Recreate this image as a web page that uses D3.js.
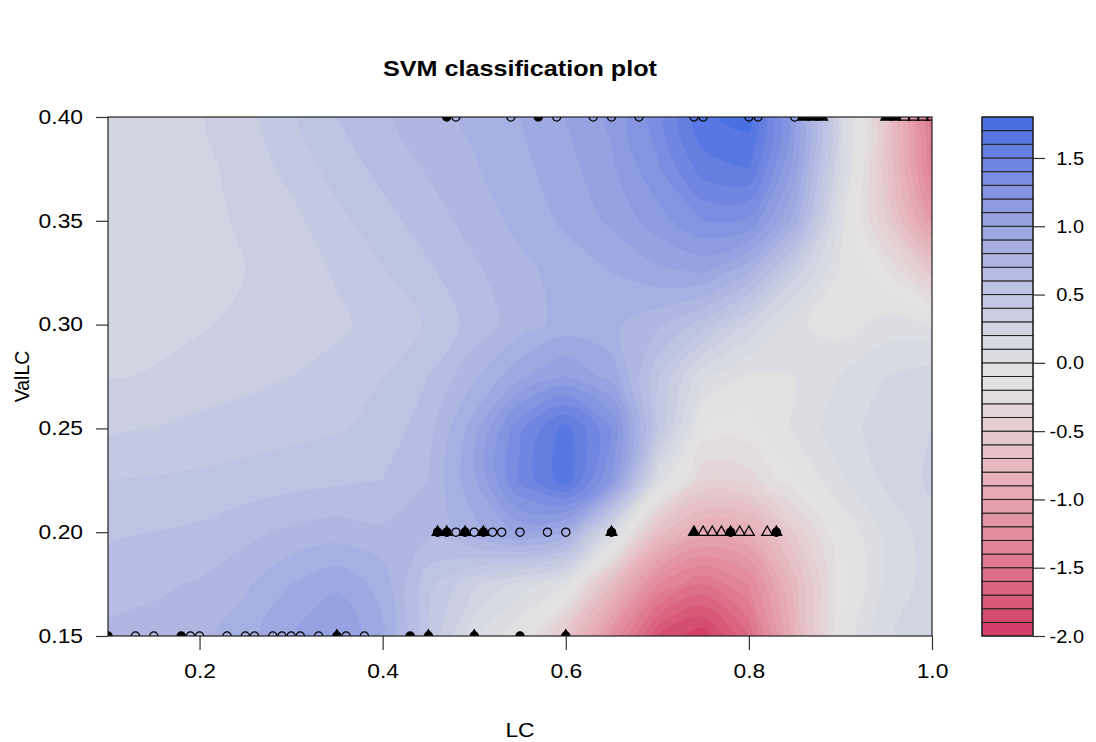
<!DOCTYPE html>
<html>
<head>
<meta charset="utf-8">
<script src="https://cdn.jsdelivr.net/npm/d3@7"></script>
<style>
  body { margin: 0; background: #fff; }
  text { font-family: "Liberation Sans", Arial, sans-serif; fill: #000; }
</style>
</head>
<body>
<div id="chart-area"></div>
<script>
var gridLC = [0.10, 0.15, 0.20, 0.25, 0.30, 0.35, 0.40, 0.45, 0.50, 0.55,
              0.60, 0.65, 0.70, 0.75, 0.80, 0.85, 0.90, 0.95, 1.00];
var gridValLC = [0.40, 0.375, 0.35, 0.325, 0.30, 0.275, 0.25, 0.225, 0.20, 0.175, 0.15];
var decision = [
  [0.20, 0.23, 0.29, 0.36, 0.48, 0.60, 0.68, 0.76, 0.82, 0.90, 1.00, 1.12, 1.35, 1.68, 1.74, 1.10, 0.22, -0.62, -1.50],
  [0.20, 0.23, 0.27, 0.34, 0.43, 0.54, 0.63, 0.71, 0.79, 0.87, 0.96, 1.08, 1.28, 1.55, 1.60, 1.05, 0.18, -0.58, -1.38],
  [0.21, 0.23, 0.26, 0.32, 0.37, 0.47, 0.56, 0.65, 0.74, 0.83, 0.92, 1.02, 1.15, 1.30, 1.28, 0.85, 0.04, -0.50, -1.10],
  [0.22, 0.23, 0.26, 0.30, 0.35, 0.41, 0.49, 0.58, 0.68, 0.77, 0.84, 0.90, 0.97, 1.00, 0.80, 0.35, -0.02, -0.18, -0.55],
  [0.24, 0.26, 0.29, 0.32, 0.34, 0.38, 0.44, 0.51, 0.64, 0.75, 0.84, 0.82, 0.72, 0.55, 0.28, 0.02, -0.05, 0.04, 0.00],
  [0.29, 0.31, 0.34, 0.37, 0.40, 0.44, 0.50, 0.60, 0.78, 0.98, 1.10, 0.96, 0.52, 0.12, -0.02, 0.00, 0.10, 0.20, 0.25],
  [0.38, 0.40, 0.43, 0.45, 0.47, 0.49, 0.53, 0.66, 0.95, 1.38, 1.64, 1.30, 0.50, -0.12, -0.15, 0.02, 0.15, 0.25, 0.30],
  [0.50, 0.51, 0.52, 0.54, 0.56, 0.58, 0.60, 0.70, 0.98, 1.42, 1.66, 1.18, 0.10, -0.40, -0.35, -0.12, 0.08, 0.22, 0.32],
  [0.58, 0.60, 0.62, 0.67, 0.72, 0.75, 0.72, 0.72, 0.86, 1.02, 0.90, 0.14, -0.65, -0.95, -0.90, -0.50, -0.10, 0.12, 0.26],
  [0.66, 0.68, 0.71, 0.78, 0.90, 0.98, 0.86, 0.53, 0.32, 0.16, 0.00, -0.70, -1.30, -1.50, -1.30, -0.75, -0.15, 0.12, 0.25],
  [0.72, 0.74, 0.77, 0.86, 1.00, 1.10, 0.92, 0.48, 0.12, -0.09, -0.60, -1.20, -1.80, -1.98, -1.60, -0.85, -0.10, 0.18, 0.28]
];

// observations, one row of ValLC at a time (pch: 1 open circle, 16 filled circle, 2 open triangle, 17 filled triangle)
var rowValLC = [0.40, 0.20, 0.15];
var rowLC = [
  [0.47, 0.48, 0.54, 0.57, 0.59, 0.63, 0.65, 0.68, 0.74, 0.75, 0.80, 0.81, 0.85, 0.86, 0.87, 0.88, 0.95, 0.96, 0.97, 0.98, 0.99, 1.00],
  [0.46, 0.46, 0.47, 0.47, 0.48, 0.49, 0.49, 0.50, 0.51, 0.51, 0.52, 0.53, 0.55, 0.58, 0.60, 0.65, 0.65,
   0.74, 0.75, 0.76, 0.77, 0.78, 0.78, 0.79, 0.80, 0.82, 0.83, 0.83],
  [0.10, 0.13, 0.15, 0.18, 0.19, 0.20, 0.23, 0.25, 0.26, 0.28, 0.29, 0.30, 0.31, 0.33, 0.35, 0.35, 0.36, 0.38,
   0.43, 0.45, 0.45, 0.50, 0.50, 0.55, 0.60, 0.60]
];
var rowPch = [
  [16, 1, 1, 16, 1, 1, 1, 1, 1, 1, 1, 1, 1, 17, 17, 17, 17, 17, 2, 2, 2, 2],
  [16, 17, 16, 17, 1, 16, 17, 1, 16, 17, 1, 1, 1, 1, 1, 16, 17,
   17, 2, 2, 2, 16, 17, 2, 2, 2, 16, 17],
  [16, 1, 1, 16, 1, 1, 1, 1, 1, 1, 1, 1, 1, 1, 16, 17, 1, 1,
   16, 16, 17, 16, 17, 16, 16, 17]
];

var xTicks = [0.2, 0.4, 0.6, 0.8, 1.0];
var yTicks = [0.15, 0.20, 0.25, 0.30, 0.35, 0.40];
var legendTicks = [-2.0, -1.5, -1.0, -0.5, 0.0, 0.5, 1.0, 1.5];
var levelMin = -2.0, levelMax = 1.8, levelStep = 0.1;

var margin = { left: 108, top: 117, right: 164, bottom: 106 };
var width = 1096 - margin.left - margin.right,
  height = 742 - margin.top - margin.bottom;
var stretchX = 1.17; // the reference text is drawn a little wide

var svg = d3.select("#chart-area")
  .append("svg")
  .attr("width", 1096)
  .attr("height", 742);

svg.append("rect").attr("width", 1096).attr("height", 742).attr("fill", "#fff");

// contour levels and an hcl diverging palette (low = red, high = blue)
var nBands = Math.round((levelMax - levelMin) / levelStep);
var levels = d3.range(nBands + 1).map(function (i) { return +(levelMin + i * levelStep).toFixed(1); });

function polarLuv(h, c, l) {
  var hr = h * Math.PI / 180;
  var U = c * Math.cos(hr), V = c * Math.sin(hr);
  var Y = l > 8 ? Math.pow((l + 16) / 116, 3) : l / 903.3;
  var xn = 95.047, yn = 100, zn = 108.883;
  var den = xn + 15 * yn + 3 * zn;
  var u = U / (13 * l) + 4 * xn / den, v = V / (13 * l) + 9 * yn / den;
  var X = 9 * Y * u / (4 * v);
  var Z = 3 * Y / v - X / 3 - 5 * Y;
  var lin = [
    3.240479 * X - 1.537150 * Y - 0.498535 * Z,
    -0.969256 * X + 1.875992 * Y + 0.041556 * Z,
    0.055648 * X - 0.204043 * Y + 1.057311 * Z
  ].map(function (t) {
    t = t <= 0.0031308 ? 12.92 * t : 1.055 * Math.pow(t, 1 / 2.4) - 0.055;
    return Math.round(255 * Math.max(0, Math.min(1, t)));
  });
  return d3.rgb(lin[0], lin[1], lin[2]).formatHex();
}
function bandColor(j) {
  var i = (2 * j - (nBands - 1)) / (nBands - 1);
  var a = Math.pow(Math.abs(i), 1.25);
  return polarLuv(i > 0 ? 260 : 0, 100 * a, 90 - 40 * a);
}

var x = d3.scaleLinear().domain([0.1, 1.0]).range([margin.left, margin.left + width]);
var y = d3.scaleLinear().domain([0.15, 0.40]).range([margin.top + height, margin.top]);

svg.append("clipPath").attr("id", "plot-clip")
  .append("rect")
  .attr("x", margin.left).attr("y", margin.top)
  .attr("width", width).attr("height", height);

// filled contours
var nx = gridLC.length, ny = gridValLC.length;
var flat = [];
decision.forEach(function (row) { row.forEach(function (v) { flat.push(v); }); });
var contours = d3.contours().size([nx, ny]).thresholds(levels.slice(0, -1))(flat);

var dLC = gridLC[1] - gridLC[0], dVal = gridValLC[1] - gridValLC[0];
function toPx(p) {
  return [x(gridLC[0] + (p[0] - 0.5) * dLC), y(gridValLC[0] + (p[1] - 0.5) * dVal)];
}
var ringLine = d3.line().curve(d3.curveCatmullRomClosed.alpha(0.5));

var field = svg.append("g").attr("clip-path", "url(#plot-clip)");
contours.forEach(function (c, j) {
  var d = "";
  c.coordinates.forEach(function (poly) {
    poly.forEach(function (ring) {
      var pts = ring.slice(0, -1).map(toPx);
      if (pts.length > 2) d += ringLine(pts);
    });
  });
  field.append("path")
    .attr("d", d)
    .attr("fill", bandColor(j))
    .attr("stroke", bandColor(j))
    .attr("stroke-width", 0.6);
});

// observations
var pts = svg.append("g").attr("clip-path", "url(#plot-clip)");
var tri = d3.symbol().type(d3.symbolTriangle).size(50);
rowValLC.forEach(function (val, r) {
  rowLC[r].forEach(function (lc, k) {
    var pch = rowPch[r][k];
    var filled = pch === 16 || pch === 17;
    var mark;
    if (pch === 1 || pch === 16) {
      mark = pts.append("circle").attr("r", 4.1);
    } else {
      mark = pts.append("path").attr("d", tri);
    }
    mark.attr("transform", "translate(" + x(lc) + "," + y(val) + ")")
      .attr("fill", filled ? "#000" : "none")
      .attr("stroke", "#000")
      .attr("stroke-width", 1.3);
  });
});

function stretch(sel, k) {
  sel.each(function () {
    var w = this.getComputedTextLength();
    d3.select(this).attr("textLength", w * k).attr("lengthAdjust", "spacingAndGlyphs");
  });
}

// box and axes
svg.append("rect")
  .attr("x", margin.left).attr("y", margin.top)
  .attr("width", width).attr("height", height)
  .attr("fill", "none").attr("stroke", "#222").attr("stroke-width", 1.2);

var xAxis = svg.append("g").attr("transform", "translate(0," + (margin.top + height) + ")")
  .call(d3.axisBottom(x).tickValues(xTicks).tickFormat(d3.format(".1f")).tickSize(14).tickPadding(14));
var yAxis = svg.append("g").attr("transform", "translate(" + margin.left + ",0)")
  .call(d3.axisLeft(y).tickValues(yTicks).tickFormat(d3.format(".2f")).tickSize(12).tickPadding(13));
[xAxis, yAxis].forEach(function (a) {
  a.select(".domain").remove();
  a.selectAll("line").attr("stroke", "#333").attr("stroke-width", 1.2);
  a.selectAll("text").attr("font-size", 19.5).attr("font-family", "Liberation Sans, Arial, sans-serif").attr("fill", "#222");
  stretch(a.selectAll("text"), stretchX);
});

// legend
var lg = { left: 982, width: 51 };
var ly = d3.scaleLinear().domain([levelMin, levelMax]).range([margin.top + height, margin.top]);
var legend = svg.append("g");
levels.slice(0, -1).forEach(function (lv, j) {
  legend.append("rect")
    .attr("x", lg.left)
    .attr("y", ly(levels[j + 1]))
    .attr("width", lg.width)
    .attr("height", ly(lv) - ly(levels[j + 1]))
    .attr("fill", bandColor(j))
    .attr("stroke", "#222")
    .attr("stroke-width", 1);
});
legend.append("rect")
  .attr("x", lg.left).attr("y", margin.top)
  .attr("width", lg.width).attr("height", height)
  .attr("fill", "none").attr("stroke", "#222").attr("stroke-width", 1.2);
var lAxis = svg.append("g").attr("transform", "translate(" + (lg.left + lg.width) + ",0)")
  .call(d3.axisRight(ly).tickValues(legendTicks).tickFormat(d3.format(".1f")).tickSize(12).tickPadding(39));
lAxis.select(".domain").remove();
lAxis.selectAll("line").attr("stroke", "#333").attr("stroke-width", 1.2);
lAxis.selectAll("text").attr("font-size", 19).attr("text-anchor", "end")
  .attr("font-family", "Liberation Sans, Arial, sans-serif").attr("fill", "#222")
  .text(function (d) { return d3.format(".1f")(d).replace("\u2212", "-"); });
stretch(lAxis.selectAll("text"), 1.05);

// titles
var title = svg.append("text")
  .attr("x", margin.left + width / 2).attr("y", 76)
  .attr("text-anchor", "middle")
  .attr("font-size", 21.5).attr("font-weight", "bold")
  .text("SVM classification plot");
stretch(title, stretchX);
var xLab = svg.append("text")
  .attr("x", margin.left + width / 2).attr("y", 737)
  .attr("text-anchor", "middle")
  .attr("font-size", 19.5)
  .attr("fill", "#222")
  .text("LC");
stretch(xLab, stretchX);
svg.append("text")
  .attr("transform", "translate(29," + (margin.top + height / 2) + ") rotate(-90)")
  .attr("text-anchor", "middle")
  .attr("font-size", 19.5)
  .attr("fill", "#222")
  .text("ValLC");
</script>
</body>
</html>
